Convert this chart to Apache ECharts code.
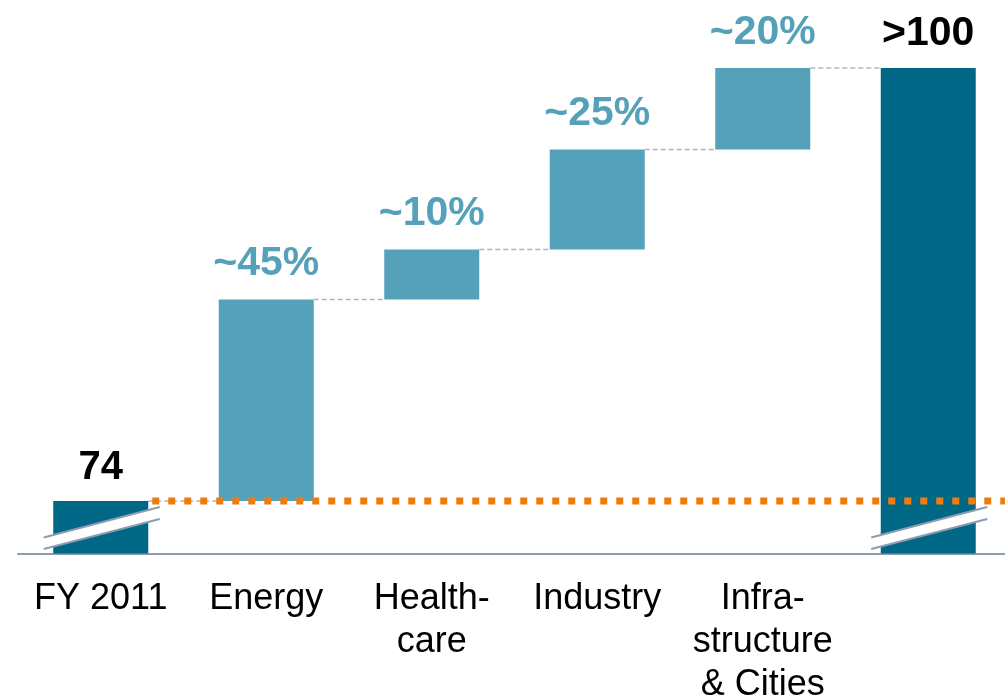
<!DOCTYPE html>
<html>
<head>
<meta charset="utf-8">
<script src="https://cdn.jsdelivr.net/npm/echarts@6/dist/echarts.min.js"></script>
<style>
  html, body { margin: 0; padding: 0; background: #ffffff; overflow: hidden; }
  #chart { width: 1005px; height: 699px; }
</style>
</head>
<body>
<div id="chart"></div>
<script>
// ---- data ----
const categories = ['FY 2011', 'Energy', 'Health-\ncare', 'Industry', 'Infra-\nstructure\n& Cities', ''];
const startValue = 74;                    // FY 2011 level
const increments = [12.1, 3.0, 6.0, 4.9]; // contribution of each sector
const shareLabels = ['~45%', '~10%', '~25%', '~20%'];
const totalValue = 100;                   // target level
const startLabel = '74';
const totalLabel = '>100';
const axisFloor = 70.85;                  // value at the broken baseline

// ---- styling ----
const FONT = "'Liberation Sans', Arial, Helvetica, sans-serif";
const DARK = '#006786';
const LIGHT = '#56A1BA';
const ORANGE = '#EE7D0E';
const AXIS_GREY = '#8C9DB0';
const BAR_W = 95;

// ---- derived series for the waterfall ----
const last = categories.length - 1;
const baseData = categories.map(() => '-');
const incData = categories.map(() => '-');
const connectorData = [[0, startValue]];
let level = startValue;
increments.forEach((v, i) => {
  baseData[i + 1] = level;
  incData[i + 1] = v;
  level = Math.round((level + v) * 100) / 100;
  connectorData.push([i + 1, level]);
});
const startData = categories.map((_, i) => (i === 0 ? startValue : '-'));
const totalData = categories.map((_, i) => (i === last ? totalValue : '-'));

const chart = echarts.init(document.getElementById('chart'), null, { renderer: 'canvas' });

chart.setOption({
  animation: false,
  backgroundColor: '#ffffff',
  grid: { left: 18, width: 993, top: 68, bottom: 145.5, outerBoundsMode: 'none', containLabel: false },
  xAxis: {
    type: 'category',
    data: categories,
    axisLine: { lineStyle: { color: AXIS_GREY, width: 2 } },
    axisTick: { show: false },
    axisLabel: {
      interval: 0,
      margin: 24,
      fontSize: 36,
      lineHeight: 43,
      color: '#000000',
      fontFamily: FONT
    },
    splitLine: { show: false }
  },
  yAxis: {
    type: 'value',
    min: axisFloor,
    max: totalValue,
    show: false,
    splitLine: { show: false }
  },
  series: [
    {
      name: 'base',
      type: 'bar',
      stack: 'wf',
      barWidth: BAR_W,
      barGap: '-100%',
      z: 1,
      silent: true,
      itemStyle: { color: 'transparent' },
      emphasis: { disabled: true },
      data: baseData
    },
    {
      name: 'increase',
      type: 'bar',
      stack: 'wf',
      barWidth: BAR_W,
      barGap: '-100%',
      z: 1,
      itemStyle: { color: LIGHT },
      emphasis: { disabled: true },
      label: {
        show: true,
        position: 'top',
        distance: 15,
        formatter: (p) => shareLabels[p.dataIndex - 1],
        fontSize: 41,
        fontWeight: 'bold',
        color: LIGHT,
        fontFamily: FONT
      },
      data: incData
    },
    {
      name: 'start',
      type: 'bar',
      barWidth: BAR_W,
      barGap: '-100%',
      z: 2,
      itemStyle: { color: DARK },
      emphasis: { disabled: true },
      label: {
        show: true,
        position: 'top',
        distance: 13,
        formatter: () => startLabel,
        fontSize: 40,
        fontWeight: 'bold',
        color: '#000000',
        fontFamily: FONT
      },
      data: startData
    },
    {
      name: 'total',
      type: 'bar',
      barWidth: BAR_W,
      barGap: '-100%',
      z: 2,
      itemStyle: { color: DARK },
      emphasis: { disabled: true },
      label: {
        show: true,
        position: 'top',
        distance: 14,
        formatter: () => totalLabel,
        fontSize: 41,
        fontWeight: 'bold',
        color: '#000000',
        fontFamily: FONT
      },
      data: totalData
    },
    {
      // dashed connectors between consecutive bar tops
      name: 'connectors',
      type: 'custom',
      z: 2,
      silent: true,
      clip: false,
      renderItem: (params, api) => {
        const i = api.value(0);
        const v = api.value(1);
        const a = api.coord([i, v]);
        const b = api.coord([i + 1, v]);
        return {
          type: 'line',
          shape: { x1: a[0] + BAR_W / 2, y1: a[1], x2: b[0] - BAR_W / 2, y2: b[1] },
          style: { stroke: '#A9B6C5', lineWidth: 1.5, lineDash: [5, 3] }
        };
      },
      data: connectorData
    },
    {
      // dotted reference line at the FY 2011 level
      name: 'level',
      type: 'custom',
      z: 3,
      silent: true,
      clip: false,
      renderItem: (params, api) => {
        const a = api.coord([api.value(0), api.value(1)]);
        return {
          type: 'line',
          shape: {
            x1: a[0] + BAR_W / 2 + 4, y1: a[1],
            x2: params.coordSys.x + params.coordSys.width, y2: a[1]
          },
          style: { stroke: ORANGE, lineWidth: 7, lineDash: [7, 9] }
        };
      },
      data: [[0, startValue]]
    },
    {
      // axis-break marks on the two full bars
      name: 'breaks',
      type: 'custom',
      z: 4,
      silent: true,
      clip: false,
      renderItem: (params, api) => {
        const c = api.coord([api.value(0), api.value(1)]);
        const x0 = c[0] - 57, x1 = c[0] + 59, y = c[1];
        const lineStyle = { stroke: AXIS_GREY, lineWidth: 2 };
        return {
          type: 'group',
          children: [
            {
              type: 'polygon',
              shape: { points: [[x0, y - 16], [x1, y - 46.5], [x1, y - 34.5], [x0, y - 4.5]] },
              style: { fill: '#ffffff' }
            },
            { type: 'line', shape: { x1: x0, y1: y - 16, x2: x1, y2: y - 46.5 }, style: lineStyle },
            { type: 'line', shape: { x1: x0, y1: y - 4.5, x2: x1, y2: y - 34.5 }, style: lineStyle }
          ]
        };
      },
      data: [[0, axisFloor], [last, axisFloor]]
    }
  ]
});
</script>
</body>
</html>
